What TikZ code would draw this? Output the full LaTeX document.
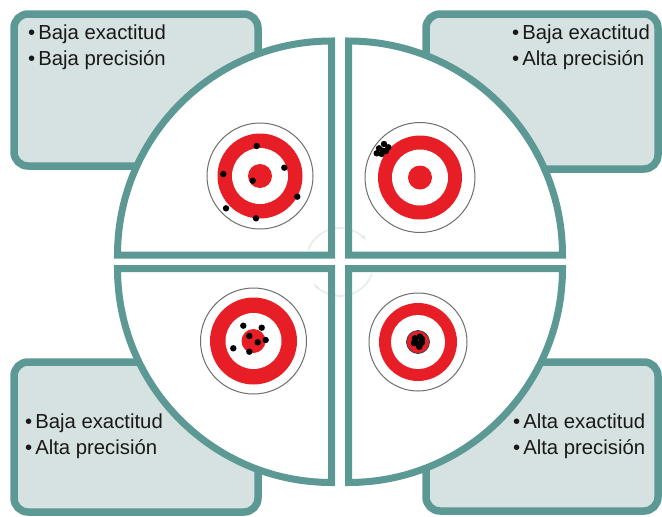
\documentclass[tikz,border=0pt]{standalone}
\usepackage{fontspec}
\setmainfont{Liberation Sans}
\usetikzlibrary{arrows.meta}
\definecolor{frameteal}{RGB}{92,152,148}
\definecolor{boxfill}{RGB}{214,225,225}
\definecolor{targetred}{RGB}{232,30,38}
\definecolor{ringgrey}{RGB}{110,110,110}
\definecolor{ink}{RGB}{25,25,25}
\definecolor{faint}{RGB}{230,236,236}
\newcommand{\bulletitem}{\textbullet\hspace{3pt}}
% target: center x, center y, outer, red, white, bull radii
\newcommand{\drawtarget}[6]{%
  \filldraw[draw=ringgrey, line width=1pt, fill=white] (#1,#2) circle[radius=#3];
  \fill[targetred] (#1,#2) circle[radius=#4];
  \fill[white] (#1,#2) circle[radius=#5];
  \fill[targetred] (#1,#2) circle[radius=#6];
}
\begin{document}
\begin{tikzpicture}[x=1pt, y=-1pt,
  infobox/.style={draw=frameteal, fill=boxfill, line width=7.5pt, rounded corners=14pt},
  quarterfill/.style={fill=white},
  quarterline/.style={draw=frameteal, line width=7pt, line join=miter},
  itemtext/.style={anchor=base west, inner sep=0pt, text=ink, font=\fontsize{20.3}{24}\selectfont},
  shot/.style={fill=black}]
\useasboundingbox (0,0) rectangle (662,517);

% four rounded boxes in the corners
\draw[infobox] (14,14) rectangle (258,166);
\draw[infobox] (426,14) rectangle (658,169);
\draw[infobox] (14,362) rectangle (258,512);
\draw[infobox] (426,362) rectangle (658,511);

% box texts
\node[itemtext] (tl1) at (28,39) {\bulletitem Baja exactitud};
\node[itemtext] (tl2) at (28,65) {\bulletitem Baja precisión};
\node[itemtext] (tr1) at (512,39) {\bulletitem Baja exactitud};
\node[itemtext] (tr2) at (512,65) {\bulletitem Alta precisión};
\node[itemtext] (bl1) at (25,428) {\bulletitem Baja exactitud};
\node[itemtext] (bl2) at (25,454) {\bulletitem Alta precisión};
\node[itemtext] (br1) at (513,428) {\bulletitem Alta exactitud};
\node[itemtext] (br2) at (513,454) {\bulletitem Alta precisión};

% quarter discs of the central wheel
\def\R{214}
\path[quarterfill] (331.5,255) -- ++(-\R,0) arc[start angle=180, end angle=270, radius=\R] -- cycle;
\path[quarterfill] (348.5,255) -- ++(0,-\R) arc[start angle=270, end angle=360, radius=\R] -- cycle;
\path[quarterfill] (348.5,268.5) -- ++(\R,0) arc[start angle=0, end angle=90, radius=\R] -- cycle;
\path[quarterfill] (331.5,268.5) -- ++(0,\R) arc[start angle=90, end angle=180, radius=\R] -- cycle;

% faint cycle arrows in the middle
\draw[faint, line width=1.6pt, -{Stealth[length=6pt]}] (340,262) ++(200:34) arc[start angle=200, end angle=320, radius=34];
\draw[faint, line width=1.6pt, -{Stealth[length=6pt]}] (340,262) ++(20:34) arc[start angle=20, end angle=140, radius=34];

\draw[quarterline] (331.5,255) -- ++(-\R,0) arc[start angle=180, end angle=270, radius=\R] -- cycle;
\draw[quarterline] (348.5,255) -- ++(0,-\R) arc[start angle=270, end angle=360, radius=\R] -- cycle;
\draw[quarterline] (348.5,268.5) -- ++(\R,0) arc[start angle=0, end angle=90, radius=\R] -- cycle;
\draw[quarterline] (331.5,268.5) -- ++(0,\R) arc[start angle=90, end angle=180, radius=\R] -- cycle;

% top left: scattered, off centre
\drawtarget{260}{176}{53}{42.5}{28}{12}
\foreach \p in {(256.7,146),(284.3,167.7),(223.3,174),(252.7,180.7),(297.3,196.7),(226,208.3),(256,218.3)}
  \fill[shot] \p circle[radius=3.2];

% top right: tight cluster, off centre
\drawtarget{420}{177.5}{55}{42}{28}{12}
\foreach \p in {(384,144),(379,148.3),(388.3,147.3),(376.7,153.3),(381.7,154),(382.7,150.7),(386,151)}
  \fill[shot] \p circle[radius=3.2];

% bottom left: spread around the centre
\drawtarget{253.5}{341}{53}{43.5}{28}{12}
\foreach \p in {(243.3,325.7),(261.7,327.7),(249.3,336),(257.7,342.3),(265.7,340),(233.3,348.3),(249.3,351.7)}
  \fill[shot] \p circle[radius=3.2];

% bottom right: tight cluster in the centre
\drawtarget{418}{342}{49}{39}{27}{11.5}
\draw[black!75, line width=0.8pt] (418,342) circle[radius=11.5];
\foreach \p in {(415,338.3),(420,336.7),(416.7,343.3),(421.7,342.7),(419.3,346.7),(414,343),(422,339)}
  \fill[shot] \p circle[radius=3.3];
\end{tikzpicture}
\end{document}
